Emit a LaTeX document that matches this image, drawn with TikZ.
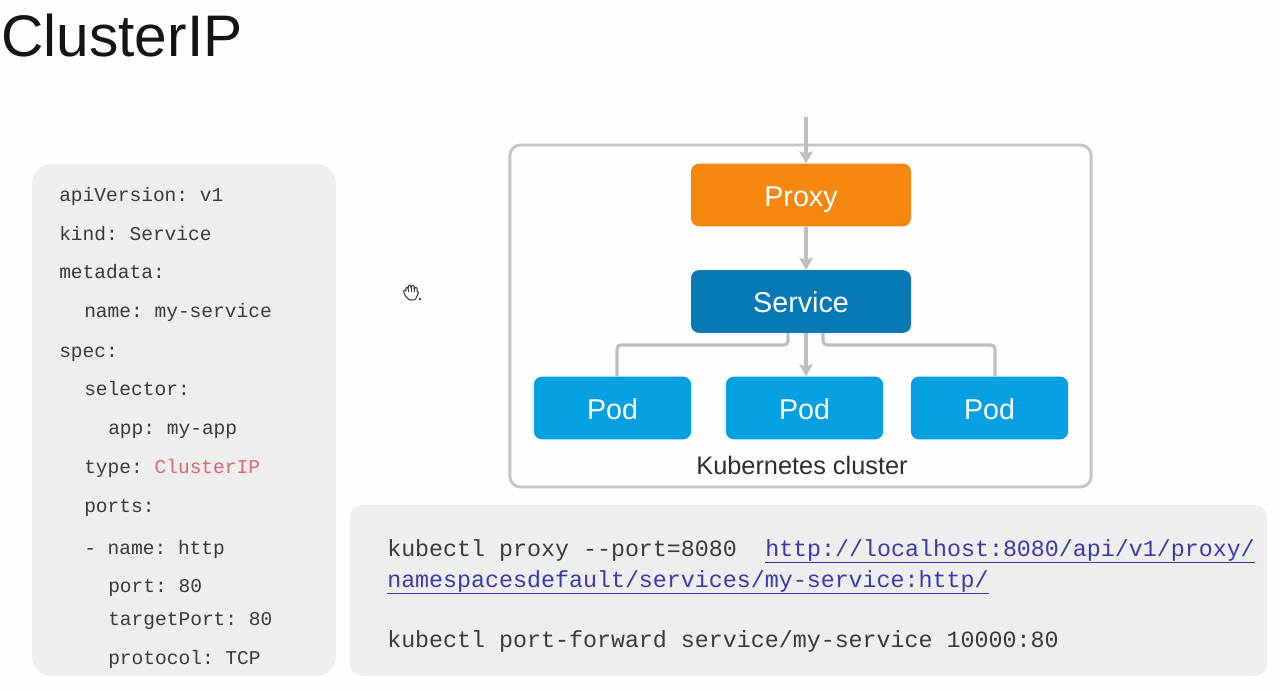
\documentclass[tikz,border=0pt]{standalone}
\usepackage{fontspec}
\setmainfont{Liberation Sans}
\setmonofont{Liberation Mono}
\usetikzlibrary{arrows.meta,calc}
\definecolor{pagebg}{HTML}{FEFEFE}
\definecolor{panelbg}{HTML}{EEEEEE}
\definecolor{wire}{HTML}{BEBEBE}
\definecolor{codeink}{HTML}{3A3A3A}
\definecolor{linkink}{HTML}{3A3AA8}
\definecolor{keyred}{HTML}{DC6670}
\definecolor{proxyfill}{HTML}{F5860F}
\definecolor{servicefill}{HTML}{0779B5}
\definecolor{podfill}{HTML}{04A0E2}
\tikzset{
  x=0.75pt,y=-0.75pt,
  panel/.style={fill=panelbg,draw=none,inner sep=0pt,rounded corners=#1},
  block/.style={draw=none,inner sep=0pt,rounded corners=6pt,text=white,
    font=\fontsize{21.5}{24}\selectfont,minimum height=47pt,text height=16.9pt,text depth=0pt},
  upperblock/.style={block,minimum width=165pt},
  podblock/.style={block,fill=podfill,minimum width=118pt},
  yaml/.style={anchor=base west,inner sep=0pt,text=codeink,font=\ttfamily\fontsize{14.65}{17}\selectfont},
  shell/.style={anchor=base west,inner sep=0pt,text=codeink,font=\ttfamily\fontsize{17.48}{20}\selectfont},
  wireline/.style={draw=wire,line width=2.4pt},
  wirearrow/.style={wireline,-{Stealth[length=9pt,width=10pt,inset=1.5pt]}},
  linkrule/.style={draw=linkink,line width=0.9pt},
}
\begin{document}
\begin{tikzpicture}
\useasboundingbox (0,0) rectangle (1280,691);
\fill[pagebg] (0,0) rectangle (1280,691);

\node[anchor=base west,inner sep=0pt,text=black!92,font=\fontsize{44}{50}\selectfont] (title) at (1,57) {ClusterIP};

% panels
\node[panel=15pt,minimum width=228pt,minimum height=384pt] (yamlpanel) at (184,420) {};
\node[panel=9pt,minimum width=688pt,minimum height=128pt] (shellpanel) at (808.5,590.5) {};

% yaml
\node[yaml] (y1) at (59,202) {apiVersion: v1};
\node[yaml] (y2) at (59,240.5) {kind: Service};
\node[yaml] (y3) at (59,279) {metadata:};
\node[yaml] (y4) at (84,317.5) {name: my-service};
\node[yaml] (y5) at (59,357) {spec:};
\node[yaml] (y6) at (84,395.5) {selector:};
\node[yaml] (y7) at (108,434.5) {app: my-app};
\node[yaml] (y8) at (84,473.5) {type: \textcolor{keyred}{ClusterIP}};
\node[yaml] (y9) at (84,512) {ports:};
\node[yaml] (y10) at (84,554) {- name: http};
\node[yaml] (y11) at (108,592.5) {port: 80};
\node[yaml] (y12) at (108,625.5) {targetPort: 80};
\node[yaml] (y13) at (108,664.5) {protocol: TCP};

% shell
\node[shell] (s1) at (387,556) {kubectl proxy --port=8080};
\node[shell,text=linkink] (s2) at (765,556) {http://localhost:8080/api/v1/proxy/};
\node[shell,text=linkink] (s3) at (387,587) {namespacesdefault/services/my-service:http/};
\node[shell] (s4) at (387,647) {kubectl port-forward service/my-service 10000:80};
\draw[linkrule] ($(s2.base west)+(0,6.5)$) -- ($(s2.base east)+(0,6.5)$);
\draw[linkrule] ($(s3.base west)+(0,6.5)$) -- ($(s3.base east)+(0,6.5)$);

% cluster
\node[draw=wire!90!white,line width=2.2pt,fill=pagebg,rounded corners=8pt,inner sep=0pt,minimum width=436pt,minimum height=256.5pt] (cluster) at (800.5,316) {};
\node[inner sep=0pt,text=codeink!80!black,font=\fontsize{19}{22}\selectfont] (clusterlabel) at (802,465) {Kubernetes cluster};

\node[upperblock,fill=proxyfill] (proxy) at (801,195) {Proxy};
\node[upperblock,fill=servicefill] (service) at (801,301.5) {Service};
\node[podblock] (pod1) at (612.5,408) {Pod};
\node[podblock] (pod2) at (804.5,408) {Pod};
\node[podblock] (pod3) at (989.5,408) {Pod};

% connectors
\coordinate (entry) at (806,117);
\coordinate (busleft) at (788,345);
\coordinate (busright) at (823,345);
\draw[wirearrow] (entry) -- (entry |- proxy.north);
\draw[wirearrow] (entry |- proxy.south) -- (entry |- service.north);
\draw[wirearrow] (entry |- service.south) -- (entry |- pod2.north);
\draw[wireline,rounded corners=3pt] (busleft |- service.south) -- (busleft) -- (617,345) -- (617,345 |- pod1.north);
\draw[wireline,rounded corners=3pt] (busright |- service.south) -- (busright) -- (995,345) -- (995,345 |- pod3.north);

% hand cursor
\begin{scope}[shift={(411,293)}]
  \draw[codeink,line width=0.8pt,line join=round,line cap=round,fill=white]
    (-7,0) .. controls (-8,-3) and (-6,-4) .. (-5,-2)
    .. controls (-6,-6) and (-3,-7) .. (-3,-4)
    .. controls (-3,-9) and (0,-9) .. (0,-5)
    .. controls (1,-9) and (4,-8) .. (3,-4)
    .. controls (5,-7) and (7,-5) .. (6,-2)
    .. controls (8,-2) and (8,1) .. (6,3)
    .. controls (5,7) and (2,8) .. (0,7)
    .. controls (-3,7) and (-5,4) .. (-7,0) -- cycle;
  \draw[codeink,line width=0.6pt,line cap=round] (-3,-4) -- (-3,-1) (0,-5) -- (0,-1) (3,-4) -- (3,-1);
  \fill[codeink] (9,6) circle (1.4);
\end{scope}
\end{tikzpicture}
\end{document}
